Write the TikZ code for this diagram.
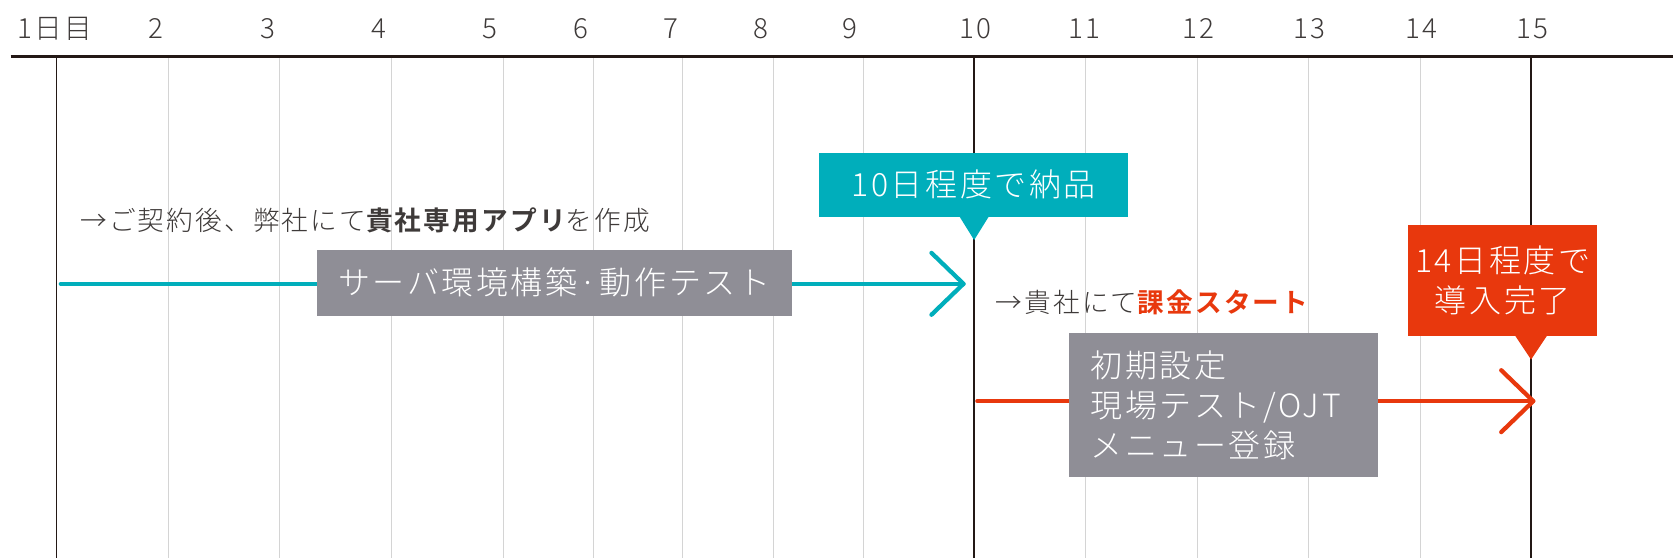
\documentclass[tikz,border=0pt]{standalone}
\usepackage{fontspec}
\setmainfont{Noto Sans CJK JP}
\newfontfamily\jpsp[LetterSpace=8]{Noto Sans CJK JP}
\newfontfamily\jplt[LetterSpace=8,UprightFont={* Light},BoldFont={Noto Sans CJK JP Bold}]{Noto Sans CJK JP}
\usetikzlibrary{calc}
\definecolor{tealc}{HTML}{00AEBB}
\definecolor{redc}{HTML}{E8380D}
\definecolor{boxgray}{HTML}{8F8E96}
\definecolor{darkline}{HTML}{231815}
\definecolor{lightline}{HTML}{D4D4D4}
\definecolor{txt}{HTML}{3E3A39}
\begin{document}
\begin{tikzpicture}[x=1pt,y=1pt,
  daylab/.style={text=txt,font=\jplt\fontsize{26}{28}\selectfont,inner sep=0pt},
  axisline/.style={darkline,line width=2pt},
  majline/.style={darkline,line width=1.4pt},
  minline/.style={lightline,line width=1pt},
  tealarrow/.style={tealc,line width=4pt,line cap=round,line join=round},
  redarrow/.style={redc,line width=4pt,line cap=round,line join=round},
  graybox/.style={fill=boxgray,text=white,inner sep=0pt,font=\jplt\fontsize{30}{37.5}\selectfont},
  callout/.style={inner sep=0pt,text=white,font=\jplt\fontsize{30}{37.5}\selectfont},
  note/.style={text=txt,font=\jplt\fontsize{25}{30}\selectfont,inner sep=0pt,anchor=west}]
\useasboundingbox (0,0) rectangle (1568,523);
\fill[white] (0,0) rectangle (1568,523);
% grid
\foreach \x in {158,262,367,472,556,640,725,809,1017,1122,1226,1331}
  \draw[minline] (\x,470) -- (\x,0);
\foreach \x in {53,913,1435}
  \draw[majline] (\x,470) -- (\x,0);
\draw[axisline] (10,470) -- (1568,470);
% day labels
\node[daylab,anchor=west] (l1) at (16,496) {1日目};
\node[daylab] (l2) at (146,496) {2};
\node[daylab] (l3) at (251,496) {3};
\node[daylab] (l4) at (355,496) {4};
\node[daylab] (l5) at (459,496) {5};
\node[daylab] (l6) at (544,496) {6};
\node[daylab] (l7) at (629,496) {7};
\node[daylab] (l8) at (713,496) {8};
\node[daylab] (l9) at (797,496) {9};
\node[daylab] (l10) at (914,496) {10};
\node[daylab] (l11) at (1016,496) {11};
\node[daylab] (l12) at (1123,496) {12};
\node[daylab] (l13) at (1227,496) {13};
\node[daylab] (l14) at (1332,496) {14};
\node[daylab] (l15) at (1436,496) {15};
% teal phase
\coordinate (ts) at (57,257);
\coordinate (te) at (903,257);
\draw[tealarrow] (ts) -- (te);
\draw[tealarrow] ($(te)+(-30,29)$) -- (te) -- ($(te)+(-30,-29)$);
\node[graybox,minimum width=445,minimum height=62] (b1) at (519.5,258) {サーバ環境構築·動作テスト};
\node[note] (n1) at (75,316) {→ご契約後、弊社にて{\bfseries 貴社専用アプリ}を作成};
% teal callout
\node[callout,fill=tealc,minimum width=289,minimum height=60] (c1) at (912.5,350) {10日程度で納品};
\fill[tealc] (899,320.5) -- (927,320.5) -- (913,298) -- cycle;
% red phase
\coordinate (rs) at (916,147);
\coordinate (re) at (1437,147);
\draw[redarrow] (rs) -- (re);
\draw[redarrow] ($(re)+(-30,29)$) -- (re) -- ($(re)+(-30,-29)$);
\node[graybox,minimum width=289,minimum height=135,align=left,text width=249,inner xsep=20pt,anchor=west] (b2) at (1002,143.5) {初期設定\\現場テスト/OJT\\メニュー登録};
\node[note] (n2) at (933,240) {→貴社にて{\bfseries\color{redc}課金スタート}};
% red callout
\node[callout,fill=redc,minimum width=177,minimum height=104,align=center] (c2) at (1408.5,260) {14日程度で\\導入完了};
\fill[redc] (1420,208.5) -- (1450,208.5) -- (1435,186) -- cycle;
\end{tikzpicture}
\end{document}
